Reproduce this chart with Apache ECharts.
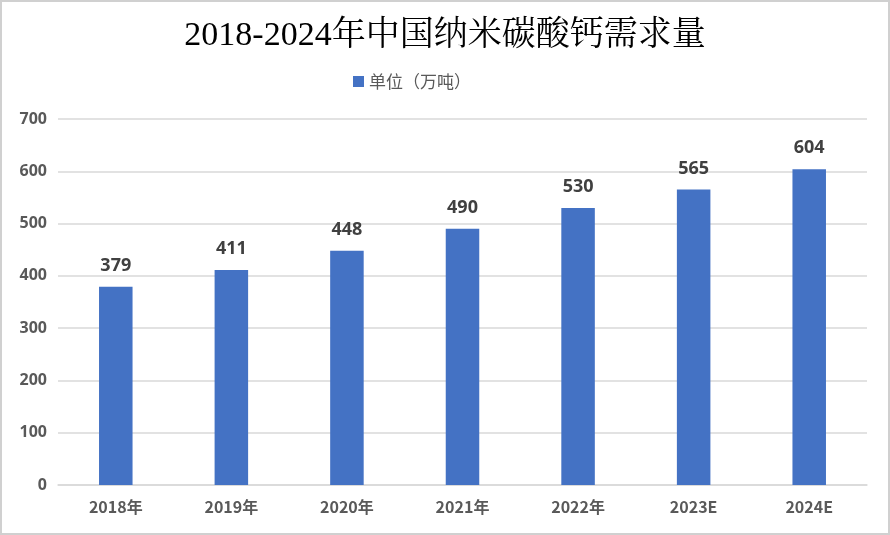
<!DOCTYPE html>
<html><head><meta charset="utf-8">
<script src="https://cdn.jsdelivr.net/npm/echarts@6/dist/echarts.min.js"></script>
<style>html,body{margin:0;padding:0;background:#fff}#c{width:890px;height:535px;box-sizing:border-box;border:2px solid #d0d0d0}</style>
</head><body><div id="c"></div>
<script>
const categories = ['2018年','2019年','2020年','2021年','2022年','2023E','2024E'];
const values = [379, 411, 448, 490, 530, 565, 604];
const yTicks = [0, 100, 200, 300, 400, 500, 600, 700];
const chart = echarts.init(document.getElementById('c'));
chart.setOption({
  animation: false,
  title: {
    text: '2018-2024年中国纳米碳酸钙需求量',
    left: 'center', top: 12,
    textStyle: { fontFamily: '"Liberation Serif","Noto Serif CJK SC","Noto Sans CJK SC",serif', fontSize: 34, fontWeight: 'normal', color: '#000' }
  },
  legend: {
    data: ['单位（万吨）'], top: 66, left: 346,
    itemWidth: 11, itemHeight: 11, itemGap: 5,
    icon: 'rect',
    textStyle: { fontFamily: '"Noto Sans CJK SC",sans-serif', fontSize: 17, color: '#595959' }
  },
  grid: { left: 56, right: 21, top: 117, bottom: 48 },
  xAxis: {
    type: 'category', data: categories,
    axisLine: { lineStyle: { color: '#d9d9d9', width: 1.5 } },
    axisTick: { show: false },
    axisLabel: { fontFamily: '"Noto Sans CJK SC",sans-serif', fontSize: 16, fontWeight: 'bold', color: '#595959', margin: 14 }
  },
  yAxis: {
    type: 'value', min: yTicks[0], max: yTicks[yTicks.length-1], interval: 100,
    axisLine: { show: false }, axisTick: { show: false },
    splitLine: { lineStyle: { color: '#d9d9d9', width: 1.5 } },
    axisLabel: { fontFamily: '"Open Sans","Noto Sans",sans-serif', fontSize: 16, fontWeight: 'bold', color: '#595959', margin: 11 }
  },
  series: [{
    name: '单位（万吨）', type: 'bar', data: values, barWidth: '29%',
    itemStyle: { color: '#4472C4' },
    label: { show: true, position: 'top', distance: 12, fontFamily: '"Open Sans","Noto Sans",sans-serif', fontSize: 18, fontWeight: 'bold', color: '#404040' }
  }]
});
</script></body></html>
